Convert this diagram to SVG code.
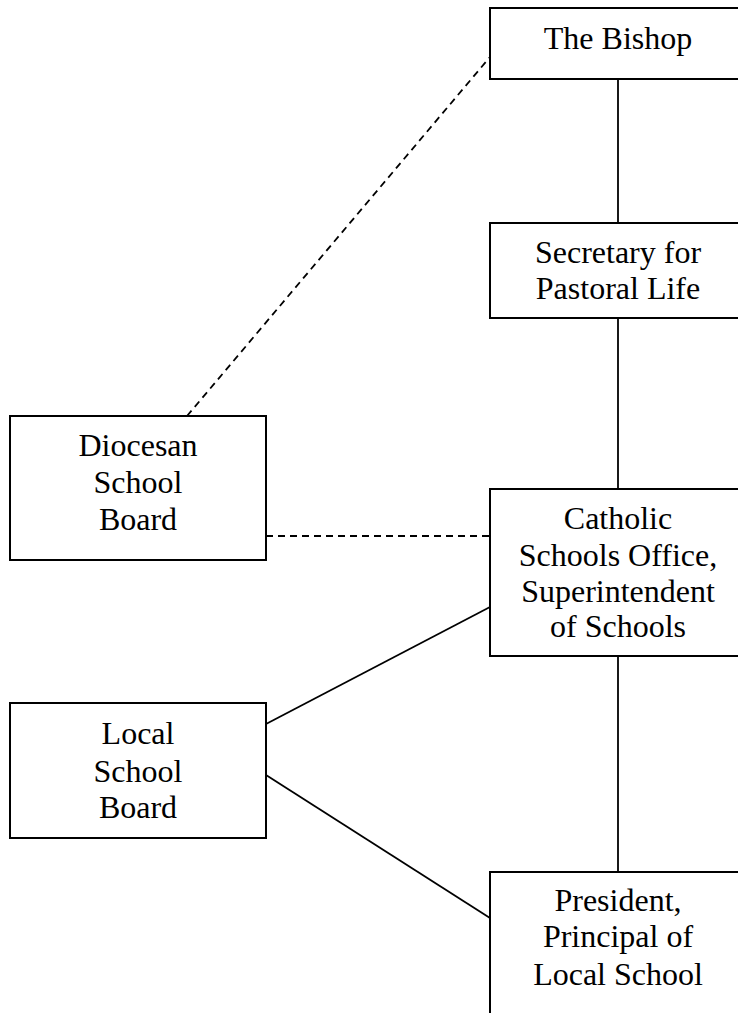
<svg xmlns="http://www.w3.org/2000/svg" width="738" height="1013" viewBox="0 0 738 1013">
<style>
.box{fill:#fff;stroke:#000;stroke-width:2}
.ln{stroke:#000;stroke-width:1.8;fill:none}
.dash{stroke-dasharray:7 5}
text{font-family:"Liberation Serif","Times New Roman",serif;font-size:32px;fill:#000;text-anchor:middle}
</style>
<rect width="738" height="1013" fill="#fff"/>
<g id="connectors">
<line class="ln" x1="618" y1="79" x2="618" y2="223"/>
<line class="ln" x1="618" y1="318" x2="618" y2="489"/>
<line class="ln" x1="618" y1="656" x2="618" y2="872"/>
<line class="ln dash" x1="187" y1="416" x2="490" y2="57"/>
<line class="ln dash" x1="266" y1="536" x2="490" y2="536"/>
<line class="ln" x1="266" y1="724" x2="490" y2="607"/>
<line class="ln" x1="266" y1="775" x2="490" y2="918"/>
</g>
<g id="bishop">
<rect class="box" x="490" y="8" width="256" height="71"/>
<text x="618" y="49">The Bishop</text>
</g>
<g id="secretary">
<rect class="box" x="490" y="223" width="256" height="95"/>
<text x="618" y="263">Secretary for</text>
<text x="618" y="299">Pastoral Life</text>
</g>
<g id="diocesan">
<rect class="box" x="10" y="416" width="256" height="144"/>
<text x="138" y="456">Diocesan</text>
<text x="138" y="493">School</text>
<text x="138" y="530">Board</text>
</g>
<g id="catholic">
<rect class="box" x="490" y="489" width="256" height="167"/>
<text x="618" y="529">Catholic</text>
<text x="618" y="566">Schools Office,</text>
<text x="618" y="602">Superintendent</text>
<text x="618" y="637">of Schools</text>
</g>
<g id="local">
<rect class="box" x="10" y="703" width="256" height="135"/>
<text x="138" y="744">Local</text>
<text x="138" y="782">School</text>
<text x="138" y="818">Board</text>
</g>
<g id="president">
<rect class="box" x="490" y="872" width="256" height="160"/>
<text x="618" y="911">President,</text>
<text x="618" y="947">Principal of</text>
<text x="618" y="985">Local School</text>
</g>
</svg>
